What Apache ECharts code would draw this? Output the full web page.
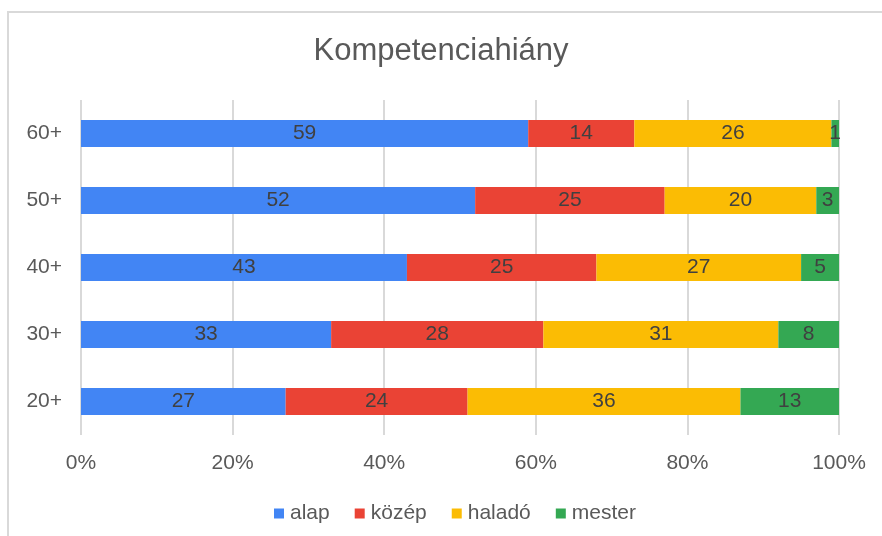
<!DOCTYPE html>
<html lang="hu">
<head>
    <meta charset="UTF-8">
    <title>Kompetenciahiány</title>
    <script src="https://cdn.jsdelivr.net/npm/echarts@6/dist/echarts.min.js"></script>
    <style>
        html, body { margin: 0; padding: 0; background: #fff; }
        #chart { width: 882px; height: 536px; }
    </style>
</head>
<body>
<div id="chart"></div>
<script>
    // adatok
    var categories = ['20+', '30+', '40+', '50+', '60+'];
    var seriesNames = ['alap', 'közép', 'haladó', 'mester'];
    var alap = [27, 33, 43, 52, 59];
    var kozep = [24, 28, 25, 25, 14];
    var halado = [36, 31, 27, 20, 26];
    var mester = [13, 8, 5, 3, 1];
    var xTicks = [0, 20, 40, 60, 80, 100];

    var colors = ['#4285f4', '#ea4335', '#fbbc04', '#34a853'];
    var values = [alap, kozep, halado, mester];
    var font = 'Liberation Sans, Arial, sans-serif';

    var chart = echarts.init(document.getElementById('chart'));

    var series = seriesNames.map(function (name, i) {
        return {
            name: name,
            type: 'bar',
            stack: 'total',
            barWidth: 27,
            itemStyle: { color: colors[i] },
            label: {
                show: true,
                position: 'inside',
                color: '#404040',
                fontSize: 21,
                fontFamily: font
            },
            data: values[i]
        };
    });

    var option = {
        animation: false,
        backgroundColor: '#fff',
        color: colors,
        title: {
            text: 'Kompetenciahiány',
            left: 'center',
            top: 31,
            textStyle: { color: '#595959', fontSize: 31, fontWeight: 'normal', fontFamily: font }
        },
        graphic: [{
            type: 'rect',
            shape: { x: 8, y: 12, width: 900, height: 600 },
            style: { fill: 'none', stroke: '#d9d9d9', lineWidth: 2 },
            silent: true
        }],
        legend: {
            top: 498,
            left: 269,
            icon: 'rect',
            itemWidth: 10,
            itemHeight: 10,
            itemGap: 25,
            textStyle: { color: '#595959', fontSize: 21, fontFamily: font, padding: [0, 0, 0, 1] },
            data: seriesNames
        },
        grid: { left: 81, right: 43, top: 100, bottom: 101, containLabel: false },
        xAxis: {
            type: 'value',
            min: xTicks[0],
            max: xTicks[xTicks.length - 1],
            interval: 20,
            axisLine: { show: false },
            axisTick: { show: false },
            splitLine: { lineStyle: { color: '#d9d9d9', width: 2 } },
            axisLabel: {
                formatter: '{value}%',
                color: '#595959',
                fontSize: 21,
                fontFamily: font,
                margin: 18
            }
        },
        yAxis: {
            type: 'category',
            data: categories,
            axisLine: { show: false },
            axisTick: { show: false },
            axisLabel: { color: '#595959', fontSize: 21, fontFamily: font, margin: 19 }
        },
        series: series
    };

    chart.setOption(option);
</script>
</body>
</html>
